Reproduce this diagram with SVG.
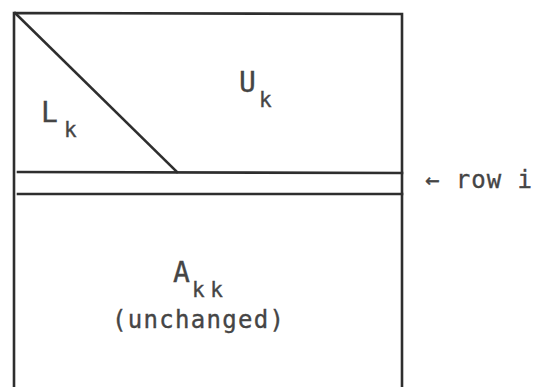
<svg xmlns="http://www.w3.org/2000/svg" width="539" height="387" viewBox="0 0 539 387">
<style>
.ln{stroke:#2e2e2e;stroke-width:2.6;fill:none;stroke-linecap:square}
.t{font-family:"DejaVu Sans Mono","Liberation Mono",monospace;fill:#454545;stroke:#454545;stroke-width:0.35}
.m{font-size:28px}
.s{font-size:21px}
.n{font-size:24px}
</style>
<rect width="539" height="387" fill="#ffffff"/>
<g id="connectors">
<path class="ln" d="M14,387 L14,13 L402,14 L402,387"/>
<path class="ln" d="M15,13 L177,172"/>
<path class="ln" d="M18,172 L402,173"/>
<path class="ln" d="M18,194 L402,194"/>
</g>
<g id="L">
<text class="t m" x="41" y="122">L</text>
<text class="t s" x="64" y="137">k</text>
</g>
<g id="U">
<text class="t m" x="239" y="92">U</text>
<text class="t s" x="259" y="107">k</text>
</g>
<g id="A">
<text class="t m" x="173" y="282">A</text>
<text class="t s" x="192" y="297" textLength="31">kk</text>
<text class="t n" x="112" y="328" textLength="172">(unchanged)</text>
</g>
<g id="row">
<text class="t n" x="425" y="188" textLength="107">← row i</text>
</g>
</svg>
